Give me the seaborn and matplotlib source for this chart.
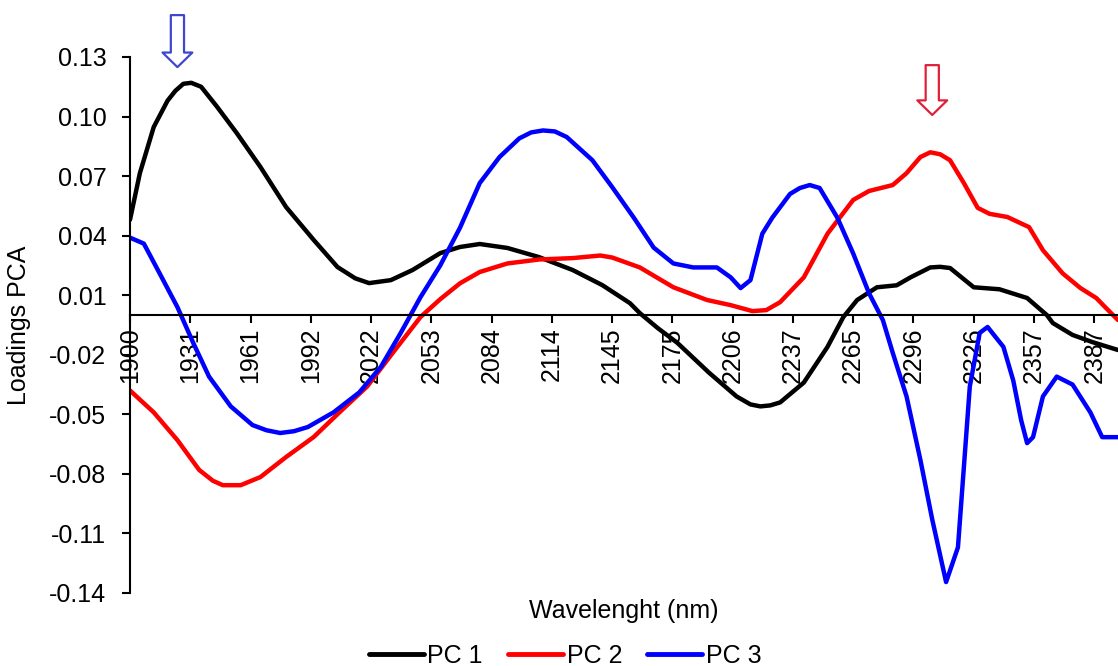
import numpy as np
import pandas as pd
import matplotlib
matplotlib.use("Agg")
import matplotlib.pyplot as plt
import seaborn as sns
from matplotlib.lines import Line2D

# ---------------- data ----------------
wl_pc1 = [1900, 1905, 1912, 1919, 1923, 1927, 1931, 1936, 1944, 1954, 1966, 1979,
          1993, 2005, 2014, 2021, 2032, 2043, 2057, 2067, 2077, 2091, 2107,
          2124, 2139, 2153, 2158, 2167, 2177, 2193, 2207, 2214, 2219, 2224, 2229,
          2241, 2253, 2261, 2268, 2278, 2288, 2295, 2305, 2310, 2315, 2327,
          2340, 2354, 2364, 2367, 2377, 2387, 2400]
pc1 = [0.048, 0.0715, 0.0947, 0.108, 0.113, 0.1165, 0.117, 0.115, 0.105, 0.0917, 0.0746, 0.0544,
       0.0378, 0.0242, 0.0185, 0.0161, 0.0176, 0.0227, 0.0312, 0.0343, 0.0358, 0.0338, 0.0292,
       0.0227, 0.0151, 0.006, 0.001, -0.0065, -0.014, -0.029, -0.041, -0.045, -0.046, -0.0455, -0.044,
       -0.034, -0.016, -0.001, 0.0076, 0.014, 0.015, 0.019, 0.024, 0.0243, 0.0237, 0.014,
       0.013, 0.0086, 0.0, -0.004, -0.010, -0.0136, -0.0176]

wl_pc2 = [1900, 1912, 1924, 1935, 1942, 1947, 1956, 1966, 1979, 1993, 2006,
          2020, 2033, 2047, 2057, 2067, 2077, 2091, 2107, 2124, 2138,
          2144, 2158, 2175, 2192, 2204, 2215, 2222, 2229, 2241, 2253,
          2266, 2274, 2286, 2293, 2300, 2305, 2310, 2315, 2322, 2329, 2335,
          2344, 2355, 2362, 2372, 2381, 2389, 2394, 2400]
pc2 = [-0.038, -0.049, -0.063, -0.078, -0.0835, -0.0857, -0.0857, -0.0816, -0.0715, -0.0614, -0.049,
       -0.036, -0.019, -0.001, 0.008, 0.016, 0.0217, 0.026, 0.028, 0.0287, 0.030,
       0.029, 0.024, 0.014, 0.0076, 0.005, 0.002, 0.0025, 0.0065, 0.019, 0.041,
       0.058, 0.0625, 0.0655, 0.0715, 0.0796, 0.082, 0.081, 0.078, 0.0665, 0.054, 0.051,
       0.0494, 0.0443, 0.0327, 0.021, 0.0136, 0.0086, 0.0035, -0.0025]

wl_pc3 = [1900, 1907, 1915, 1924, 1932, 1940, 1951, 1962, 1969, 1976, 1983, 1990,
          2003, 2016, 2027, 2037, 2047, 2057, 2067, 2077, 2087, 2097,
          2103, 2109, 2115, 2121, 2134, 2144, 2155, 2165, 2175, 2185, 2197, 2204,
          2209, 2214, 2220, 2225, 2234, 2239, 2244, 2249, 2258, 2266, 2274,
          2281, 2286, 2293, 2300, 2306, 2313, 2319, 2322, 2325, 2330,
          2334, 2342, 2347, 2351, 2354, 2357, 2362, 2369, 2377, 2386,
          2392, 2400]
pc3 = [0.039, 0.036, 0.021, 0.004, -0.014, -0.031, -0.046, -0.0554, -0.058, -0.0594, -0.0585, -0.0564,
       -0.049, -0.039, -0.026, -0.009, 0.009, 0.025, 0.044, 0.0665, 0.0796, 0.089,
       0.092, 0.093, 0.0925, 0.0897, 0.078, 0.0645, 0.049, 0.034, 0.026, 0.024, 0.024, 0.019,
       0.0136, 0.0176, 0.041, 0.049, 0.061, 0.064, 0.0655, 0.064, 0.049, 0.031, 0.011,
       -0.0025, -0.019, -0.041, -0.073, -0.103, -0.1345, -0.117, -0.0766, -0.036, -0.009,
       -0.006, -0.016, -0.033, -0.053, -0.0645, -0.0615, -0.041, -0.031, -0.035, -0.049,
       -0.0615, -0.0615]

series_names = ["PC 1", "PC 2", "PC 3"]
series_colors = ["#000000", "#ff0000", "#0000ff"]
x_tick_labels = ["1900", "1931", "1961", "1992", "2022", "2053", "2084", "2114",
                 "2145", "2175", "2206", "2237", "2265", "2296", "2326", "2357", "2387"]
y_ticks = [-0.14, -0.11, -0.08, -0.05, -0.02, 0.01, 0.04, 0.07, 0.10, 0.13]

df = pd.concat([
    pd.DataFrame({"Wavelength": wl_pc1, "Loading": pc1, "Series": "PC 1"}),
    pd.DataFrame({"Wavelength": wl_pc2, "Loading": pc2, "Series": "PC 2"}),
    pd.DataFrame({"Wavelength": wl_pc3, "Loading": pc3, "Series": "PC 3"}),
], ignore_index=True)

# ---------------- style ----------------
sns.set_theme(style="white")
plt.rcParams["font.family"] = ["Liberation Sans", "DejaVu Sans"]
plt.rcParams["text.color"] = "black"

fig = plt.figure(figsize=(11.18, 6.66), dpi=100)
ax = fig.add_axes([130 / 1118, 1 - 593 / 666, 1 - 130 / 1118, (593 - 57) / 666])

palette = dict(zip(series_names, series_colors))
sns.lineplot(data=df, x="Wavelength", y="Loading", hue="Series", palette=palette,
             linewidth=3.2, ax=ax, legend=False, sort=True)

# spines first (set_position resets tick properties)
for s in ["top", "right"]:
    ax.spines[s].set_visible(False)
ax.spines["bottom"].set_position(("data", 0))
ax.spines["left"].set_color("black")
ax.spines["left"].set_linewidth(1.5)
ax.spines["bottom"].set_color("black")
ax.spines["bottom"].set_linewidth(1.5)

ax.set_xlim(1900, 2400)
ax.set_ylim(-0.14, 0.13)

# category-like evenly spaced tick positions
step = 30.5
tick_pos = [1900 + i * step for i in range(len(x_tick_labels))]
ax.set_xticks(tick_pos)
ax.set_xticklabels(x_tick_labels, rotation=90, fontsize=18, color="black")
ax.set_yticks(y_ticks)
ax.set_yticklabels([f"{v:.2f}" for v in y_ticks], fontsize=18, color="black")

ax.tick_params(axis="y", direction="out", length=6, width=1.5, color="black",
               pad=11, left=True)
ax.tick_params(axis="x", direction="out", length=6, width=1.5, color="black",
               pad=3, bottom=True)
ax.grid(False)

ax.set_xlabel("Wavelenght (nm)", fontsize=18, color="black")
ax.xaxis.set_label_coords(0.5, -0.012)
ax.set_ylabel("Loadings PCA", fontsize=18, color="black")
ax.yaxis.set_label_coords(-0.10, 0.5)

# hollow arrows marking peaks
arrow_specs = [((1924, 0.1249), (1924, 0.1511), "#3f48cc"),
               ((2306, 0.1008), (2306, 0.1259), "#e0203a")]
for tip, tail, col in arrow_specs:
    ax.annotate("", xy=tip, xytext=tail, xycoords="data", textcoords="data",
                annotation_clip=False,
                arrowprops=dict(arrowstyle="simple,head_length=10.5,head_width=21.5,tail_width=9.5",
                                mutation_scale=1, fc="white", ec=col, lw=1.6,
                                shrinkA=0, shrinkB=0))

handles = [Line2D([0], [0], color=c, lw=3.5) for c in series_colors]
fig.legend(handles, series_names, loc="center", bbox_to_anchor=(565 / 1118, 1 - 656 / 666),
           ncol=3, frameon=False, fontsize=18, handlelength=2.2, handletextpad=0.15,
           columnspacing=1.0, borderpad=0.1)

fig.savefig("out.png", dpi=100)
